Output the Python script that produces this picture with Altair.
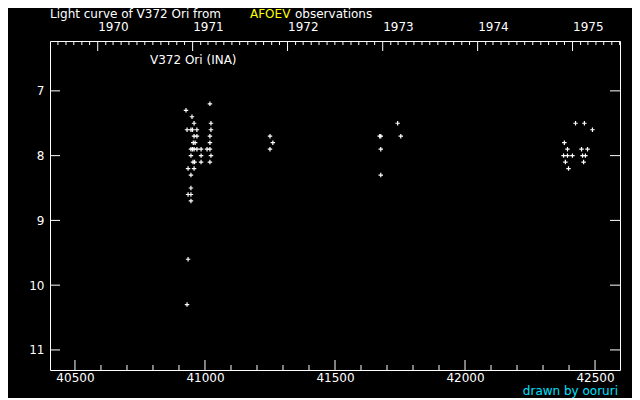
import altair as alt
import pandas as pd

# ---- data (JD - 2400000, visual magnitude) ----
jd = [41019, 40927, 40950, 40958, 41023,
      40931, 40946, 40952, 40969, 41023,
      40958, 40969, 41019,
      40955, 40962, 41019,
      40946, 40952, 40958, 40969, 40985, 41008, 41019,
      40946, 40985, 41023,
      40954, 40960, 40985, 41019,
      40935, 40958, 40946, 40946, 40935, 40946, 40946,
      40935, 40931,
      41250, 41261, 41250,
      41741, 41672, 41676, 41753, 41676, 41676,
      42425, 42459, 42490, 42382, 42394, 42448, 42471,
      42379, 42394, 42413, 42452, 42463, 42386, 42456, 42398]
mag = [7.2, 7.3, 7.4, 7.5, 7.5,
       7.6, 7.6, 7.6, 7.6, 7.6,
       7.7, 7.7, 7.7,
       7.8, 7.8, 7.8,
       7.9, 7.9, 7.9, 7.9, 7.9, 7.9, 7.9,
       8.0, 8.0, 8.0,
       8.1, 8.1, 8.1, 8.1,
       8.2, 8.2, 8.3, 8.5, 8.6, 8.6, 8.7,
       9.6, 10.3,
       7.7, 7.8, 7.9,
       7.5, 7.7, 7.7, 7.7, 7.9, 8.3,
       7.5, 7.5, 7.6, 7.8, 7.9, 7.9, 7.9,
       8.0, 8.0, 8.0, 8.0, 8.0, 8.1, 8.1, 8.2]

jd_labels = [40500, 41000, 41500, 42000, 42500]
mag_labels = [7, 8, 9, 10, 11]
years = [1970, 1971, 1972, 1973, 1974, 1975]

title_a = "Light curve of V372 Ori from"
title_b = "AFOEV"
title_c = "observations"
star_label = "V372 Ori (INA)"
credit = "drawn by ooruri"

W, H = 570, 329
FONT = "DejaVu Sans"
X_DOMAIN = [40404, 42596]
Y_DOMAIN = [6.23, 11.31]

xs = alt.Scale(domain=X_DOMAIN, nice=False, zero=False)
ys = alt.Scale(domain=Y_DOMAIN, nice=False, zero=False, reverse=True)

obs = pd.DataFrame({"jd": jd, "mag": mag})

def to_jd(ts):
    return ts.to_julian_date() - 2400000

year_jd = [to_jd(pd.Timestamp(f"{y}-01-01")) for y in years]
months = pd.date_range("1969-06-01", "1975-08-01", freq="MS")
month_jd = [to_jd(m) for m in months]
month_jd = [m for m in month_jd if X_DOMAIN[0] < m < X_DOMAIN[1] and m not in year_jd]

minor_jd = [v for v in range(40500, 42501, 100) if v % 500 != 0]

points = alt.Chart(obs).mark_point(
    shape="M-1,0L1,0M0,-1L0,1", size=20, filled=False, stroke="white", strokeWidth=1.2, opacity=1
).encode(
    x=alt.X("jd:Q", scale=xs, axis=alt.Axis(
        orient="bottom", values=jd_labels, ticks=False, domain=False, grid=False,
        labelPadding=2, format="d", title=None)),
    y=alt.Y("mag:Q", scale=ys, axis=alt.Axis(
        orient="left", values=mag_labels, ticks=False, domain=False, grid=False,
        labelPadding=6, title=None))
)

year_ticks = alt.Chart(pd.DataFrame({"v": year_jd})).mark_rule(color="white", strokeWidth=1).encode(
    x=alt.X("v:Q", scale=xs, axis=alt.Axis(
        orient="top", values=year_jd, ticks=False, domain=False, grid=False,
        labelExpr="round((datum.value - 40587.5) / 365.25) + 1970",
        labelAlign="left", labelPadding=8, title=None)),
    y=alt.value(0), y2=alt.value(10)
)

month_ticks = alt.Chart(pd.DataFrame({"v": month_jd})).mark_rule(color="white", strokeWidth=1).encode(
    x=alt.X("v:Q", scale=xs, axis=None), y=alt.value(0), y2=alt.value(4)
)

bottom_major = alt.Chart(pd.DataFrame({"v": jd_labels})).mark_rule(color="white", strokeWidth=1).encode(
    x=alt.X("v:Q", scale=xs, axis=None), y=alt.value(H), y2=alt.value(H - 10)
)
bottom_minor = alt.Chart(pd.DataFrame({"v": minor_jd})).mark_rule(color="white", strokeWidth=1).encode(
    x=alt.X("v:Q", scale=xs, axis=None), y=alt.value(H), y2=alt.value(H - 5)
)

left_ticks = alt.Chart(pd.DataFrame({"m": mag_labels})).mark_rule(color="white", strokeWidth=1).encode(
    y=alt.Y("m:Q", scale=ys, axis=None), x=alt.value(0), x2=alt.value(10)
)
right_ticks = alt.Chart(pd.DataFrame({"m": mag_labels})).mark_rule(color="white", strokeWidth=1).encode(
    y=alt.Y("m:Q", scale=ys, axis=None), x=alt.value(W - 10), x2=alt.value(W)
)

def label(txt, x, y, color, align="left"):
    return alt.Chart(pd.DataFrame({"t": [txt]})).mark_text(
        font=FONT, fontSize=12, color=color, align=align, baseline="middle"
    ).encode(text="t:N", x=alt.value(x), y=alt.value(y))

texts = [
    label(title_a, 0, -27, "white"),
    label(title_b, 200, -27, "#ffff00"),
    label(title_c, 245, -27, "white"),
    label(star_label, 100, 19, "white"),
    label(credit, 568, 350, "#00e0ff", align="right"),
]

chart = alt.layer(
    points, year_ticks, month_ticks, bottom_major, bottom_minor, left_ticks, right_ticks, *texts
).resolve_axis(x="independent", y="independent").properties(
    width=W, height=H,
    autosize=alt.AutoSizeParams(type="none"),
    padding={"left": 42, "top": 33, "right": 12, "bottom": 28},
    background="black",
).configure_view(
    stroke="white", strokeWidth=1
).configure_axis(
    labelColor="white", labelFont=FONT, labelFontSize=12
)

chart.save("out.html", embed_options={"renderer": "svg", "actions": False})
